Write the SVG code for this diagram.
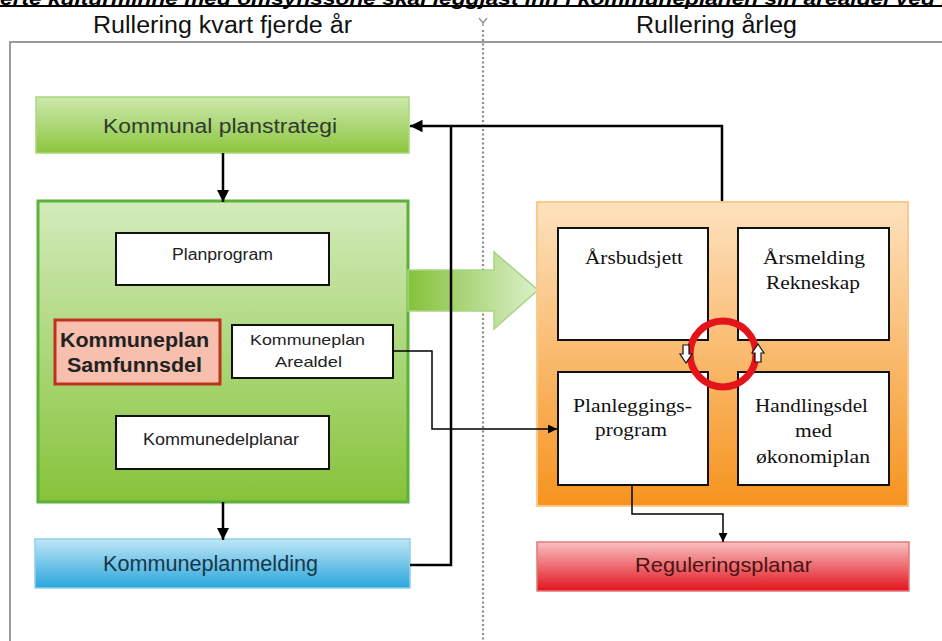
<svg xmlns="http://www.w3.org/2000/svg" width="942" height="641" viewBox="0 0 942 641">
<defs>
<linearGradient id="gGreen" x1="0" y1="0" x2="0" y2="1"><stop offset="0" stop-color="#cde8ae"/><stop offset="1" stop-color="#8cc63e"/></linearGradient>
<linearGradient id="gGreenBig" x1="0" y1="0" x2="0" y2="1"><stop offset="0" stop-color="#d3ebbb"/><stop offset="1" stop-color="#86c33a"/></linearGradient>
<linearGradient id="gBlue" x1="0" y1="0" x2="0" y2="1"><stop offset="0" stop-color="#bfe6f6"/><stop offset="1" stop-color="#2aa6dc"/></linearGradient>
<linearGradient id="gRed" x1="0" y1="0" x2="0" y2="1"><stop offset="0" stop-color="#f8c0c0"/><stop offset="1" stop-color="#e3141f"/></linearGradient>
<linearGradient id="gOrange" x1="0" y1="0" x2="0" y2="1"><stop offset="0" stop-color="#fde2bf"/><stop offset="1" stop-color="#f6931e"/></linearGradient>
<linearGradient id="gArrow" x1="0" y1="0" x2="1" y2="0"><stop offset="0" stop-color="#84c23a"/><stop offset="1" stop-color="#dcefcb"/></linearGradient>
<marker id="ah" viewBox="0 0 10 10" refX="10" refY="5" markerWidth="5" markerHeight="5" orient="auto" markerUnits="strokeWidth"><path d="M0,0 L10,5 L0,10 z" fill="#000"/></marker>
<marker id="ahs" viewBox="0 0 10 10" refX="10" refY="5" markerWidth="6" markerHeight="6" orient="auto" markerUnits="strokeWidth"><path d="M0,0 L10,5 L0,10 z" fill="#000"/></marker>
</defs>
<style>
.sans{font-family:"Liberation Sans",Arial,sans-serif;}
.serif{font-family:"Liberation Serif","Times New Roman",serif;font-size:18px;fill:#111;}
.white{fill:#fff;stroke:#111;stroke-width:2;}
.thick{fill:none;stroke:#000;stroke-width:2.5;}
.thin{fill:none;stroke:#000;stroke-width:1.5;}
</style>
<rect x="0" y="0" width="942" height="641" fill="#fff"/>
<!-- cut-off top line -->
<text x="0" y="5" class="sans" font-size="19" font-style="italic" font-weight="bold" fill="#000" textLength="950" lengthAdjust="spacingAndGlyphs">erte kulturminne med omsynssone skal leggjast inn i kommuneplanen sin arealdel ved r</text>
<line x1="0" y1="6" x2="942" y2="6" stroke="#000" stroke-width="2"/>
<!-- frame -->
<path d="M10,641 V42 H942" fill="none" stroke="#9a9a9a" stroke-width="2"/>
<!-- headings -->
<text x="93" y="33" class="sans" font-size="23" fill="#111" textLength="259" lengthAdjust="spacingAndGlyphs">Rullering kvart fjerde år</text>
<text x="636" y="33" class="sans" font-size="23" fill="#111" textLength="161" lengthAdjust="spacingAndGlyphs">Rullering årleg</text>
<!-- divider -->
<path d="M479,18 L483,23 L487,18 M483,23 V26" fill="none" stroke="#999" stroke-width="1.5"/>
<line x1="483" y1="30" x2="483" y2="641" stroke="#8a8a8a" stroke-width="2.2" stroke-dasharray="2 2.5"/>

<g id="n-planstrategi">
<rect x="36" y="97" width="373" height="56" fill="url(#gGreen)" stroke="#a9d67d" stroke-width="1.5"/>
<text x="103" y="133" class="sans" font-size="20" fill="#2f3a2f" textLength="234" lengthAdjust="spacingAndGlyphs">Kommunal planstrategi</text>
</g>

<g id="n-kommuneplan">
<rect x="38" y="201" width="370" height="301" fill="url(#gGreenBig)" stroke="#5db139" stroke-width="3"/>
</g>

<g id="n-arrow">
<path d="M408,270 H494 V252 L538,290 L494,329 V311 H408 Z" fill="url(#gArrow)" stroke="#a8d583" stroke-width="1.5"/>
</g>

<g id="n-planprogram">
<rect x="116" y="233" width="213" height="52" class="white"/>
<text x="172" y="260" class="sans" font-size="16" fill="#222" textLength="101" lengthAdjust="spacingAndGlyphs">Planprogram</text>
</g>

<g id="n-samfunnsdel">
<rect x="55" y="320" width="165" height="64" fill="#f6bfae" stroke="#c0301f" stroke-width="3"/>
<text x="60" y="347" class="sans" font-size="20" font-weight="bold" fill="#222" textLength="149" lengthAdjust="spacingAndGlyphs">Kommuneplan</text>
<text x="67" y="372" class="sans" font-size="20" font-weight="bold" fill="#222" textLength="135" lengthAdjust="spacingAndGlyphs">Samfunnsdel</text>
</g>

<g id="n-arealdel">
<rect x="232" y="325" width="161" height="53" class="white"/>
<text x="250" y="345" class="sans" font-size="15" fill="#222" textLength="115" lengthAdjust="spacingAndGlyphs">Kommuneplan</text>
<text x="275" y="367" class="sans" font-size="15" fill="#222" textLength="67" lengthAdjust="spacingAndGlyphs">Arealdel</text>
</g>

<g id="n-kommunedelplanar">
<rect x="116" y="416" width="213" height="53" class="white"/>
<text x="143" y="445" class="sans" font-size="16" fill="#222" textLength="156" lengthAdjust="spacingAndGlyphs">Kommunedelplanar</text>
</g>

<g id="n-melding">
<rect x="35" y="539" width="375" height="49" fill="url(#gBlue)" stroke="#8fd0ea" stroke-width="1.5"/>
<text x="103" y="571" class="sans" font-size="22" fill="#17384a" textLength="215" lengthAdjust="spacingAndGlyphs">Kommuneplanmelding</text>
</g>

<g id="n-arleg">
<rect x="537" y="202" width="371" height="304" fill="url(#gOrange)" stroke="#f9c98e" stroke-width="2"/>
</g>

<g id="n-arsbudsjett">
<rect x="558" y="228" width="150" height="112" class="white"/>
<text x="585" y="264" class="serif" textLength="98" lengthAdjust="spacingAndGlyphs">Årsbudsjett</text>
</g>

<g id="n-arsmelding">
<rect x="738" y="228" width="151" height="112" class="white"/>
<text x="763" y="264" class="serif" textLength="102" lengthAdjust="spacingAndGlyphs">Årsmelding</text>
<text x="766" y="289" class="serif" textLength="94" lengthAdjust="spacingAndGlyphs">Rekneskap</text>
</g>

<g id="n-planleggings">
<rect x="558" y="372" width="150" height="113" class="white"/>
<text x="573" y="412" class="serif" textLength="119" lengthAdjust="spacingAndGlyphs">Planleggings-</text>
<text x="595" y="436" class="serif" textLength="72" lengthAdjust="spacingAndGlyphs">program</text>
</g>

<g id="n-handlingsdel">
<rect x="738" y="372" width="151" height="113" class="white"/>
<text x="755" y="412" class="serif" textLength="113" lengthAdjust="spacingAndGlyphs">Handlingsdel</text>
<text x="795" y="437" class="serif" textLength="37" lengthAdjust="spacingAndGlyphs">med</text>
<text x="756" y="463" class="serif" textLength="114" lengthAdjust="spacingAndGlyphs">økonomiplan</text>
</g>

<g id="n-cycle">
<circle cx="723" cy="354" r="33" fill="none" stroke="#e4141b" stroke-width="7"/>
<path d="M683,345 H689 V354 H692 L686,363 L680,354 H683 Z" fill="#fff" stroke="#111" stroke-width="1.2"/>
<path d="M755,362 H761 V353 H764 L758,344 L752,353 H755 Z" fill="#fff" stroke="#111" stroke-width="1.2"/>
</g>

<g id="n-regulering">
<rect x="537" y="542" width="372" height="49" fill="url(#gRed)" stroke="#e07a7a" stroke-width="1.5"/>
<text x="635" y="572" class="sans" font-size="21" fill="#4a1414" textLength="177" lengthAdjust="spacingAndGlyphs">Reguleringsplanar</text>
</g>

<g id="connectors">
<line x1="223" y1="153" x2="223" y2="202" class="thick" marker-end="url(#ah)"/>
<line x1="223" y1="502" x2="223" y2="540" class="thick" marker-end="url(#ah)"/>
<path d="M722,201 V126 H410" class="thick" marker-end="url(#ah)"/>
<path d="M410,565 H451 V126" class="thick"/>
<path d="M393,351 H432 V429 H557" class="thin" marker-end="url(#ahs)"/>
<path d="M632,486 V514 H723 V542" class="thin" marker-end="url(#ahs)"/>
</g>
</svg>
